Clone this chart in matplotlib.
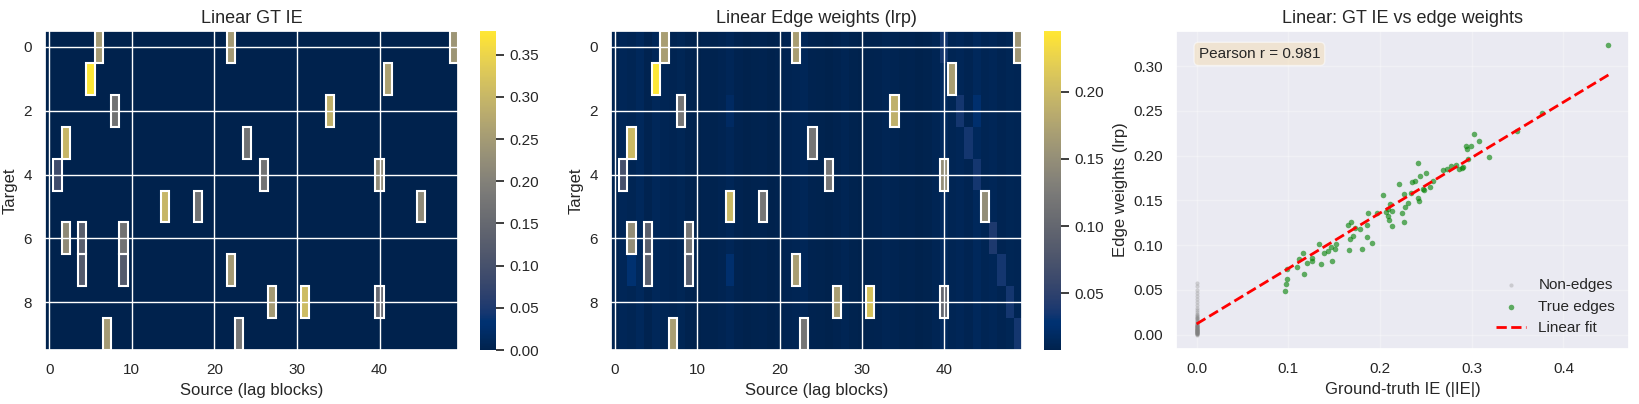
import numpy as np
import matplotlib
matplotlib.use("Agg")
import matplotlib.pyplot as plt
import seaborn as sns
from matplotlib.patches import Rectangle

sns.set_theme(style="darkgrid")
plt.rcParams['font.family'] = ['Liberation Sans', 'DejaVu Sans']

n_targets, n_sources = 10, 50
edge_rows = [0, 0, 0, 1, 1, 2, 2, 3, 3, 4, 4, 4, 5, 5, 5, 6, 6, 6, 7, 7, 7, 8, 8, 8, 9, 9]
edge_cols = [6, 22, 49, 5, 41, 8, 34, 2, 24, 1, 26, 40, 14, 18, 45, 2, 4, 9, 4, 9, 22, 27, 31, 40, 7, 23]
gt_ie = [0.25, 0.25, 0.24, 0.378, 0.26, 0.17, 0.29, 0.30, 0.17, 0.09, 0.17, 0.22, 0.30, 0.17, 0.22,
         0.22, 0.13, 0.17, 0.12, 0.12, 0.25, 0.25, 0.31, 0.15, 0.25, 0.18]
lrp_w = [0.17, 0.17, 0.16, 0.245, 0.17, 0.12, 0.19, 0.20, 0.12, 0.07, 0.12, 0.15, 0.20, 0.12, 0.15,
         0.15, 0.09, 0.12, 0.09, 0.09, 0.17, 0.17, 0.21, 0.10, 0.17, 0.12]
# background level of learned weights per source column
lrp_background = [0.010, 0.014, 0.012, 0.016, 0.010, 0.015, 0.012, 0.011, 0.013, 0.009,
                  0.008, 0.010, 0.009, 0.011, 0.014, 0.010, 0.008, 0.009, 0.010, 0.008,
                  0.009, 0.011, 0.012, 0.014, 0.010, 0.009, 0.008, 0.010, 0.012, 0.009,
                  0.008, 0.009, 0.010, 0.012, 0.011, 0.009, 0.010, 0.008, 0.009, 0.012,
                  0.018, 0.012, 0.014, 0.011, 0.016, 0.012, 0.014, 0.011, 0.013, 0.012]
faint_rows = [0, 2, 3, 4, 6, 7, 8, 9, 2, 7, 7, 2]
faint_cols = [40, 42, 43, 44, 46, 47, 48, 49, 44, 2, 14, 14]
faint_vals = [0.035, 0.035, 0.035, 0.035, 0.04, 0.035, 0.035, 0.035, 0.025, 0.03, 0.025, 0.02]

# scatter: true edges (GT |IE|, edge weight)
sc_x = [0.096, 0.098, 0.099, 0.099, 0.109, 0.112, 0.116, 0.117, 0.126, 0.126, 0.134, 0.136, 0.139,
        0.143, 0.148, 0.151, 0.152, 0.165, 0.168, 0.166, 0.167, 0.170, 0.180, 0.186, 0.187, 0.186,
        0.191, 0.197, 0.203, 0.209, 0.209, 0.210, 0.213, 0.213, 0.211, 0.221, 0.224, 0.226, 0.226,
        0.227, 0.231, 0.234, 0.235, 0.238, 0.241, 0.241, 0.242, 0.244, 0.248, 0.250, 0.255, 0.269,
        0.273, 0.277, 0.283, 0.286, 0.291, 0.294, 0.295, 0.299, 0.296, 0.302, 0.308, 0.319, 0.349,
        0.377, 0.449, 0.173, 0.207, 0.247, 0.258, 0.289, 0.120, 0.146, 0.178]
sc_y = [0.049, 0.057, 0.062, 0.073, 0.076, 0.084, 0.091, 0.068, 0.085, 0.082, 0.101, 0.079, 0.091,
        0.093, 0.082, 0.096, 0.101, 0.122, 0.126, 0.095, 0.107, 0.110, 0.096, 0.109, 0.136, 0.122,
        0.102, 0.136, 0.156, 0.140, 0.133, 0.128, 0.121, 0.138, 0.146, 0.168, 0.136, 0.157, 0.126,
        0.142, 0.147, 0.158, 0.170, 0.171, 0.192, 0.153, 0.149, 0.177, 0.161, 0.181, 0.165, 0.184,
        0.185, 0.188, 0.189, 0.185, 0.187, 0.211, 0.207, 0.211, 0.196, 0.224, 0.216, 0.198, 0.227,
        0.248, 0.323, 0.119, 0.137, 0.163, 0.172, 0.186, 0.080, 0.098, 0.118]
non_edge_y = [0.000, 0.001, 0.002, 0.002, 0.003, 0.003, 0.004, 0.004, 0.005, 0.005, 0.006, 0.006,
              0.007, 0.007, 0.008, 0.008, 0.009, 0.009, 0.010, 0.010, 0.011, 0.011, 0.012, 0.012,
              0.013, 0.014, 0.015, 0.016, 0.017, 0.018, 0.019, 0.020, 0.021, 0.022, 0.023, 0.025,
              0.027, 0.030, 0.033, 0.036, 0.040, 0.043, 0.046, 0.050, 0.054, 0.058, 0.001, 0.002,
              0.003, 0.004, 0.005, 0.006, 0.007, 0.008, 0.002, 0.003, 0.004, 0.005, 0.006, 0.001]

gt_mat = np.zeros((n_targets, n_sources))
for r, c, v in zip(edge_rows, edge_cols, gt_ie):
    gt_mat[r, c] = v
lrp_mat = np.tile(np.array(lrp_background), (n_targets, 1))
for r, c, v in zip(faint_rows, faint_cols, faint_vals):
    lrp_mat[r, c] = v
for r, c, v in zip(edge_rows, edge_cols, lrp_w):
    lrp_mat[r, c] = v

fig = plt.figure(figsize=(16.4, 4.04), dpi=100)
W, H = 1640, 404
def box(x0, x1, y0, y1):
    return [x0 / W, 1 - y1 / H, (x1 - x0) / W, (y1 - y0) / H]

cmap = 'cividis'
panels = [
    (gt_mat, "Linear GT IE", box(45, 458, 31, 350), box(480, 496, 31, 350), [0, 0.05, 0.10, 0.15, 0.20, 0.25, 0.30, 0.35]),
    (lrp_mat, "Linear Edge weights (lrp)", box(611, 1022, 31, 350), box(1044, 1061, 31, 350), [0.05, 0.10, 0.15, 0.20]),
]
for mat, title, pos, cpos, cticks in panels:
    ax = fig.add_axes(pos)
    im = ax.imshow(mat, aspect='auto', cmap=cmap, interpolation='nearest')
    for r, c in zip(edge_rows, edge_cols):
        ax.add_patch(Rectangle((c - 0.5, r - 0.5), 1, 1, fill=False, edgecolor='white', lw=1.5))
    ax.set_title(title, fontsize=13)
    ax.set_xlabel("Source (lag blocks)", fontsize=12)
    ax.set_ylabel("Target", fontsize=12)
    ax.set_xticks([0, 10, 20, 30, 40])
    ax.set_yticks([0, 2, 4, 6, 8])
    ax.tick_params(labelsize=11)
    cax = fig.add_axes(cpos)
    cb = fig.colorbar(im, cax=cax)
    cb.set_ticks(cticks)
    cb.outline.set_visible(False)
    cax.tick_params(labelsize=11)

ax3 = fig.add_axes(box(1176, 1629, 31, 349))
ne_x = [0.0] * len(non_edge_y)
ax3.scatter(ne_x, non_edge_y, s=9, color='gray', alpha=0.3, label='Non-edges', linewidths=0)
ax3.scatter(sc_x, sc_y, s=16, color='green', alpha=0.6, label='True edges', linewidths=0)
all_x = np.array(ne_x + sc_x)
all_y = np.array(non_edge_y + sc_y)
slope, icpt = np.polyfit(all_x, all_y, 1)
xx = np.array([all_x.min(), all_x.max()])
ax3.plot(xx, slope * xx + icpt, color='red', ls='--', lw=2, label='Linear fit')
ax3.text(0.05, 0.95, "Pearson r = 0.981", transform=ax3.transAxes, fontsize=11, va='top',
         bbox=dict(boxstyle='round', facecolor='wheat', alpha=0.5))
ax3.set_title("Linear: GT IE vs edge weights", fontsize=13)
ax3.set_xlabel("Ground-truth IE (|IE|)", fontsize=12)
ax3.set_ylabel("Edge weights (lrp)", fontsize=12)
ax3.tick_params(labelsize=11)
ax3.legend(loc='lower right', frameon=False, fontsize=11)
ax3.grid(True, alpha=0.3)

fig.savefig("out.png", dpi=100)
